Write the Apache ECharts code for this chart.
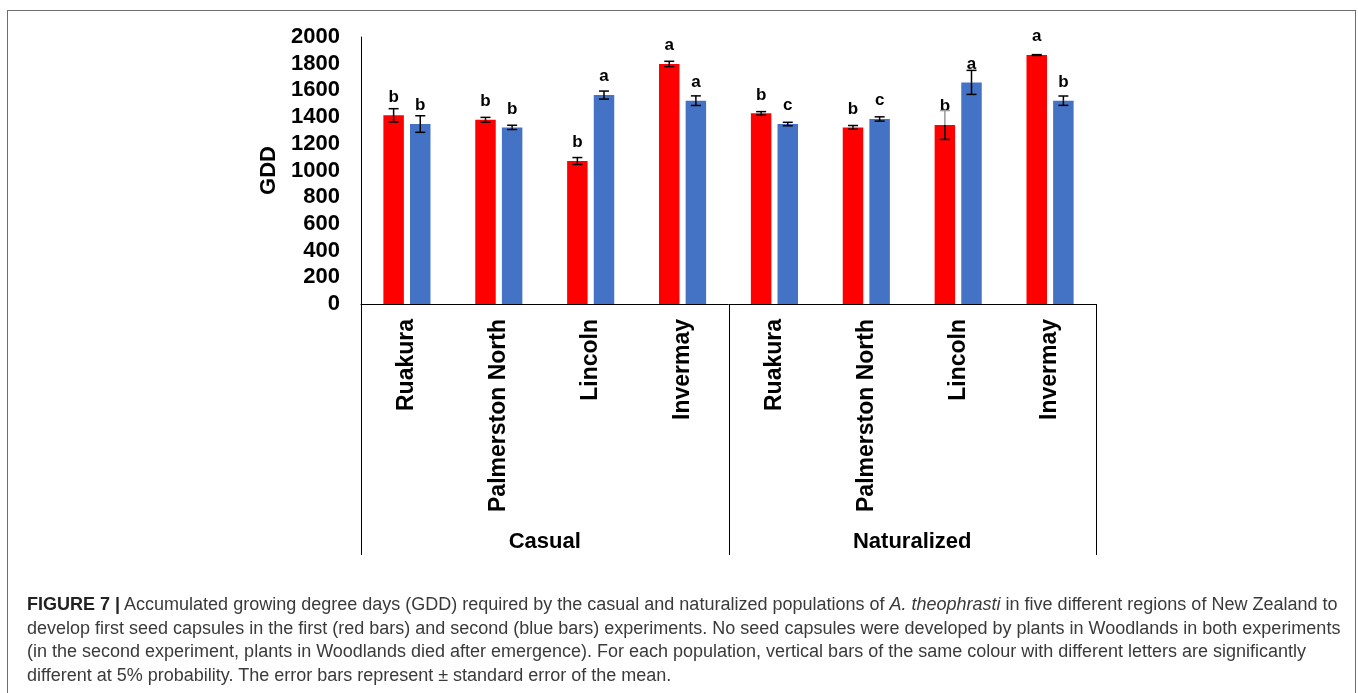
<!DOCTYPE html>
<html>
<head>
<meta charset="utf-8">
<script src="https://cdn.jsdelivr.net/npm/echarts@6/dist/echarts.min.js"></script>
<style>
  html, body { margin: 0; padding: 0; background: #fff; width: 1358px; height: 693px; overflow: hidden; }
  #frame { position: absolute; left: 7px; top: 10px; width: 1349px; height: 700px; border: 1.5px solid #6e6e6e; border-bottom: none; box-sizing: border-box; }
  #chart { position: absolute; left: 0; top: 0; width: 1358px; height: 693px; }
  #caption { position: absolute; left: 27px; top: 593px; font-family: "Liberation Sans", Arial, sans-serif; font-size: 18px; line-height: 23.5px; color: #3a3a3a; white-space: nowrap; }
  #caption b { color: #222; }
</style>
</head>
<body>
<div id="frame"></div>
<div id="chart"></div>
<div id="caption">
  <div><b>FIGURE 7 |</b> Accumulated growing degree days (GDD) required by the casual and naturalized populations of <i>A. theophrasti</i> in five different regions of New Zealand to</div>
  <div>develop first seed capsules in the first (red bars) and second (blue bars) experiments. No seed capsules were developed by plants in Woodlands in both experiments</div>
  <div>(in the second experiment, plants in Woodlands died after emergence). For each population, vertical bars of the same colour with different letters are significantly</div>
  <div>different at 5% probability. The error bars represent &plusmn; standard error of the mean.</div>
</div>
<script>
// Regions, grouped by population (4 regions each)
const regions = ['Ruakura', 'Palmerston North', 'Lincoln', 'Invermay', 'Ruakura', 'Palmerston North', 'Lincoln', 'Invermay'];
const populations = ['Casual', 'Naturalized'];
const regionsPerPopulation = 4;

// Accumulated GDD, first experiment (red) and second experiment (blue)
const firstExp = [1413, 1380, 1071, 1798, 1428, 1323, 1341, 1865];
const firstErr = [50, 18, 26, 20, 13, 14, 108, 3];
const secondExp = [1348, 1323, 1565, 1523, 1348, 1386, 1660, 1523];
const secondErr = [62, 16, 30, 36, 13, 16, 90, 35];

// Significance letters
const firstLetters = ['b', 'b', 'b', 'a', 'b', 'b', 'b', 'a'];
const secondLetters = ['b', 'b', 'a', 'a', 'c', 'c', 'a', 'b'];

// Y axis
const yMin = 0, yMax = 2000, yStep = 200;

const FONT = '"Liberation Sans", Arial, sans-serif';
const BAR_FRAC = 0.223;   // bar width as a share of the category band
const BAR_GAP = 0.3;      // gap between paired bars, share of bar width

const chart = echarts.init(document.getElementById('chart'), null, { renderer: 'canvas' });

// The upper whisker of the first-experiment Lincoln (Naturalized) bar is drawn faint
const faintUpper = { '-1': [6] };

function errorSeries(values, errs, sign) {
  const faint = faintUpper[String(sign)] || [];
  return {
    type: 'custom',
    z: 5,
    silent: true,
    data: values.map((v, i) => [i, v, errs[i]]),
    encode: { x: 0, y: 1 },
    renderItem(params, api) {
      const i = api.value(0), v = api.value(1), e = api.value(2);
      const band = api.size([1, 0])[0];
      const w = band * BAR_FRAC;
      const cx = api.coord([i, 0])[0] + sign * (w / 2 + (w * BAR_GAP) / 2);
      const yHi = api.coord([i, v + e])[1];
      const yMid = api.coord([i, v])[1];
      const yLo = api.coord([i, v - e])[1];
      const cap = 5;
      const style = { stroke: '#000', lineWidth: 1.5 };
      const upStyle = faint.indexOf(i) >= 0 ? { stroke: '#9a9a9a', lineWidth: 1.5 } : style;
      return {
        type: 'group',
        children: [
          { type: 'line', shape: { x1: cx, y1: yHi, x2: cx, y2: yMid }, style: upStyle },
          { type: 'line', shape: { x1: cx, y1: yMid, x2: cx, y2: yLo }, style },
          { type: 'line', shape: { x1: cx - cap, y1: yHi, x2: cx + cap, y2: yHi }, style: upStyle },
          { type: 'line', shape: { x1: cx - cap, y1: yLo, x2: cx + cap, y2: yLo }, style }
        ]
      };
    }
  };
}

function barSeries(name, values, letters, color) {
  return {
    name,
    type: 'bar',
    data: values,
    barWidth: (BAR_FRAC * 100) + '%',
    barGap: (BAR_GAP * 100) + '%',
    itemStyle: { color },
    label: {
      show: true,
      position: 'top',
      distance: 10,
      formatter: (p) => letters[p.dataIndex],
      fontFamily: FONT,
      fontWeight: 'bold',
      fontSize: 17,
      color: '#000'
    }
  };
}

chart.setOption({
  animation: false,
  grid: { left: 361, right: 262, top: 37, bottom: 389, containLabel: false },
  xAxis: {
    type: 'category',
    data: regions,
    axisLine: { show: true, lineStyle: { color: '#000', width: 1 } },
    axisTick: { show: false },
    axisLabel: {
      interval: 0,
      rotate: 90,
      margin: 15,
      fontFamily: FONT,
      fontWeight: 'bold',
      fontSize: 23,
      color: '#000'
    }
  },
  yAxis: {
    type: 'value',
    min: yMin,
    max: yMax,
    interval: yStep,
    name: 'GDD',
    nameLocation: 'middle',
    nameGap: 74,
    nameRotate: 90,
    nameTextStyle: { fontFamily: FONT, fontWeight: 'bold', fontSize: 22, color: '#000' },
    axisLine: { show: true, lineStyle: { color: '#000', width: 1 } },
    axisTick: { show: false },
    splitLine: { show: false },
    axisLabel: {
      margin: 21,
      formatter: (v) => String(v),
      fontFamily: FONT,
      fontWeight: 'bold',
      fontSize: 22,
      color: '#000'
    }
  },
  series: [
    barSeries('First experiment', firstExp, firstLetters, '#ff0000'),
    barSeries('Second experiment', secondExp, secondLetters, '#4472c4'),
    errorSeries(firstExp, firstErr, -1),
    errorSeries(secondExp, secondErr, 1)
  ]
});

// Population brackets below the category axis
const c0 = chart.convertToPixel({ xAxisIndex: 0 }, 0);
const c1 = chart.convertToPixel({ xAxisIndex: 0 }, 1);
const band = c1 - c0;
const yZero = chart.convertToPixel({ yAxisIndex: 0 }, 0);
const bracketBottom = 555;
const groupLabelY = 542;
const graphics = [];
for (let g = 0; g <= populations.length; g++) {
  const x = Math.round(c0 - band / 2 + g * regionsPerPopulation * band) + 0.5;
  graphics.push({
    type: 'line',
    shape: { x1: x, y1: yZero, x2: x, y2: bracketBottom },
    style: { stroke: '#000', lineWidth: 1 }
  });
}
populations.forEach((p, g) => {
  const xc = c0 - band / 2 + (g + 0.5) * regionsPerPopulation * band;
  graphics.push({
    type: 'text',
    x: xc,
    y: groupLabelY,
    style: {
      text: p,
      fontFamily: FONT,
      fontWeight: 'bold',
      fontSize: 22,
      fill: '#000',
      align: 'center',
      verticalAlign: 'middle'
    }
  });
});
chart.setOption({ graphic: graphics });
</script>
</body>
</html>
